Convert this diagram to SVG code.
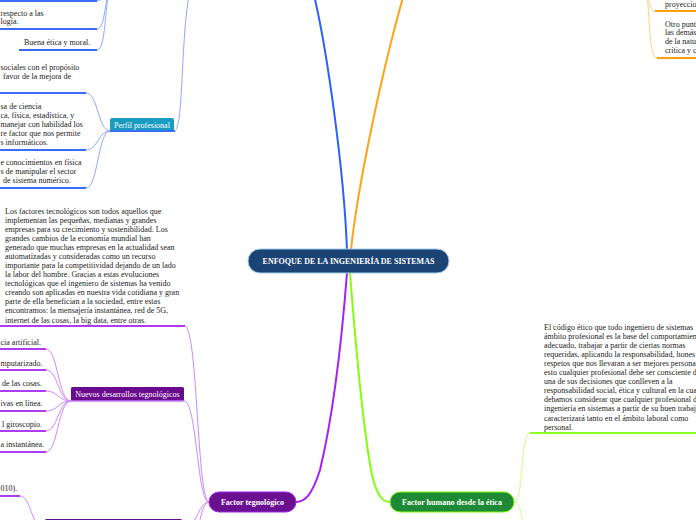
<svg xmlns="http://www.w3.org/2000/svg" width="696" height="520" viewBox="0 0 696 520">
<style>
.t{font-family:"Liberation Serif","Times New Roman",serif;font-size:8px;fill:#222}
.n{font-family:"Liberation Serif","Times New Roman",serif;font-size:8px;fill:#fff}
.b{font-family:"Liberation Serif","Times New Roman",serif;font-size:8px;fill:#fff;font-weight:bold}
.c{fill:none}
.bl{stroke:#2f5fff;stroke-width:2}
.blt{stroke:#8eaaff;stroke-width:1}
.blu{stroke:#3a6cf5;stroke-width:2}
.or{stroke:#ffa31a;stroke-width:2}
.ort{stroke:#ffd08a;stroke-width:1}
.oru{stroke:#ff9f10;stroke-width:2}
.pu{stroke:#a522f5;stroke-width:2}
.put{stroke:#cc88ff;stroke-width:1}
.puu{stroke:#b03cf0;stroke-width:2}
.gr{stroke:#82ff0a;stroke-width:2}
.grt{stroke:#c8ff8a;stroke-width:1}
.gru{stroke:#8cff20;stroke-width:2}
</style>
<rect width="696" height="520" fill="#fff"/>
<g id="connectors" class="c">
<path class="bl" d="M347,250 C344,170 327,50 314,-5"/>
<path class="or" d="M351,250 C357,190 382,70 404,-6"/>
<path class="pu" d="M347,273 C341,350 332,420 320,470 C312,495 305,502 296,502"/>
<path class="gr" d="M350,273 C356,350 365,440 372,475 C377,495 382,502 390,502"/>
<path class="blt" d="M174,131 C184,131 180,40 190,-10"/>
<path class="blt" d="M110,131 C98,131 98,93 86,93"/>
<path class="blt" d="M110,131 C98,131 98,150 86,150"/>
<path class="blt" d="M110,131 C98,131 98,188 86,188"/>
<path class="blt" d="M97,29 C106,29 104,-5 112,-15"/>
<path class="blt" d="M97,50 C107,50 104,-5 112,-15"/>
<path class="blt" d="M97,1 C104,1 106,-10 112,-15"/>
<path class="ort" d="M655,11 C648,11 650,-4 645,-10"/>
<path class="ort" d="M657,58 C647,58 651,0 645,-10"/>
<path class="put" d="M209,502 C197,502 198,330 185,326"/>
<path class="put" d="M209,502 C197,502 197,401 184,401"/>
<path class="put" d="M209,502 C198,502 196,530 182,532"/>
<path class="put" d="M209,502 C200,502 198,540 190,560"/>
<path class="put" d="M71,401 C58,401 58,349 46,349"/>
<path class="put" d="M71,401 C58,401 58,370 46,370"/>
<path class="put" d="M71,401 C58,401 58,391 46,391"/>
<path class="put" d="M71,401 C58,401 58,411 46,411"/>
<path class="put" d="M71,401 C58,401 58,431 46,431"/>
<path class="put" d="M71,401 C58,401 58,452 46,452"/>
<path class="put" d="M20,496 C31,496 33,532 45,532"/>
<path class="grt" d="M514,502 C524,502 520,433 530,433"/>
<path class="grt" d="M514,502 C524,502 522,540 530,548"/>
<path class="blu" d="M0,1 H97 M0,29 H97 M19,50 H97 M0,93 H86 M0,150 H86 M0,188 H86"/>
<path class="oru" d="M655,11 H696 M657,58 H696"/>
<path class="puu" d="M0,326 H185 M0,349 H46 M0,370 H46 M0,391 H46 M0,411 H46 M0,431 H46 M0,452 H46 M0,496 H20"/>
<path class="gru" d="M530,433 H696"/>
</g>
<g id="center">
<rect x="248" y="249" width="201" height="24" rx="12" fill="#1b4474" stroke="#9fcbf2" stroke-width="1"/>
<text class="b" x="348.5" y="264" text-anchor="middle" font-size="7.85">ENFOQUE DE LA INGENIERÍA DE SISTEMAS</text>
</g>
<g id="perfil">
<rect x="110" y="118" width="64" height="13" rx="2" fill="#1a9bc0"/>
<path d="M110,131 H175" stroke="#3a6cf5" stroke-width="2"/>
<text class="n" x="142" y="127.5" text-anchor="middle">Perfil profesional</text>
</g>
<g id="perfil-children">
<text class="t" x="0.5" y="15.5">respecto a las</text>
<text class="t" x="0.5" y="24">logía.</text>
<text class="t" x="24" y="44.5">Buena ética y moral.</text>
<text class="t" x="0.5" y="69.5">sociales con el propósito</text>
<text class="t" x="3" y="79">favor de la mejora de</text>
<text class="t" x="0.5" y="109">sa de ciencia</text>
<text class="t" x="0.5" y="118">ca, física, estadística, y</text>
<text class="t" x="0.5" y="127">manejar con habilidad los</text>
<text class="t" x="0.5" y="136">re factor que nos permite</text>
<text class="t" x="0.5" y="145">s informáticos.</text>
<text class="t" x="0.5" y="165">e conocimientos en física</text>
<text class="t" x="0.5" y="174">s de manipular el sector</text>
<text class="t" x="3" y="183">de sistema numérico.</text>
</g>
<g id="tec-text">
<text class="t">
<tspan x="5" y="213.5">Los factores tecnológicos son todos aquellos que</tspan>
<tspan x="5" y="222.6">implementan las pequeñas, medianas y grandes</tspan>
<tspan x="5" y="231.7">empresas para su crecimiento y sostenibilidad. Los</tspan>
<tspan x="5" y="240.8">grandes cambios de la economía mundial han</tspan>
<tspan x="5" y="249.8">generado que muchas empresas en la actualidad sean</tspan>
<tspan x="5" y="258.9">automatizadas y consideradas como un recurso</tspan>
<tspan x="5" y="268">importante para la competitividad dejando de un lado</tspan>
<tspan x="5" y="277.1">la labor del hombre. Gracias a estas evoluciones</tspan>
<tspan x="5" y="286.2">tecnológicas que el ingeniero de sistemas ha venido</tspan>
<tspan x="5" y="295.2">creando son aplicadas en nuestra vida cotidiana y gran</tspan>
<tspan x="5" y="304.3">parte de ella benefician a la sociedad, entre estas</tspan>
<tspan x="5" y="313.4">encontramos: la mensajería instantánea, red de 5G,</tspan>
<tspan x="5" y="322.5">internet de las cosas, la big data, entre otras.</tspan>
</text>
</g>
<g id="nuevos">
<rect x="71" y="387" width="113" height="14" rx="1.5" fill="#6a0a8c"/>
<path d="M71,401 H184" stroke="#c27cf5" stroke-width="1.5"/>
<text class="n" x="127.5" y="397" text-anchor="middle">Nuevos desarrollos tegnológicos</text>
</g>
<g id="nuevos-children">
<text class="t" x="0.5" y="344.5">cia artificial.</text>
<text class="t" x="0.5" y="365.5">mputarizado.</text>
<text class="t" x="2" y="385.5">de las cosas.</text>
<text class="t" x="0.5" y="405.5">ivas en línea.</text>
<text class="t" x="2" y="426.5">l giroscopio.</text>
<text class="t" x="0.5" y="446.5">a instantánea.</text>
<text class="t" x="0.5" y="490.5">010).</text>
</g>
<g id="bottom-node">
<rect x="45" y="519" width="137" height="14" rx="1.5" fill="#6a0a8c"/>
</g>
<g id="factor-tec">
<rect x="209" y="492" width="87" height="20" rx="10" fill="#6a0f8f" stroke="#a024f0" stroke-width="1"/>
<text class="b" x="252.5" y="504.8" text-anchor="middle">Factor tegnológico</text>
</g>
<g id="factor-humano">
<rect x="390" y="492" width="124" height="20" rx="10" fill="#1f8a35" stroke="#7cfc10" stroke-width="1"/>
<text class="b" x="452" y="504.8" text-anchor="middle">Factor humano desde la ética</text>
</g>
<g id="etica-text">
<text class="t">
<tspan x="544" y="329.5">El código ético que todo ingeniero de sistemas</tspan>
<tspan x="544" y="338.6">ámbito profesional es la base del comportamien</tspan>
<tspan x="544" y="347.7">adecuado, trabajar a partir de ciertas normas</tspan>
<tspan x="544" y="356.8">requeridas, aplicando la responsabilidad, hones</tspan>
<tspan x="544" y="365.9">respetos que nos llevaran a ser mejores persona</tspan>
<tspan x="544" y="375">esto cualquier profesional debe ser consciente d</tspan>
<tspan x="544" y="384.1">una de sus decisiones que conlleven a la</tspan>
<tspan x="544" y="393.2">responsabilidad social, ética y cultural en la cua</tspan>
<tspan x="544" y="402.3">debamos considerar que cualquier profesional d</tspan>
<tspan x="544" y="411.4">ingeniería en sistemas a partir de su buen trabaj</tspan>
<tspan x="544" y="420.5">caracterizará tanto en el ámbito laboral como</tspan>
<tspan x="544" y="429.6">personal.</tspan>
</text>
</g>
<g id="orange-children">
<text class="t" x="665" y="6.5">proyeccio</text>
<text class="t">
<tspan x="665" y="26.5">Otro punt</tspan>
<tspan x="665" y="35.2">las demás</tspan>
<tspan x="665" y="43.9">de la natu</tspan>
<tspan x="665" y="52.6">crítica y c</tspan>
</text>
</g>
</svg>
